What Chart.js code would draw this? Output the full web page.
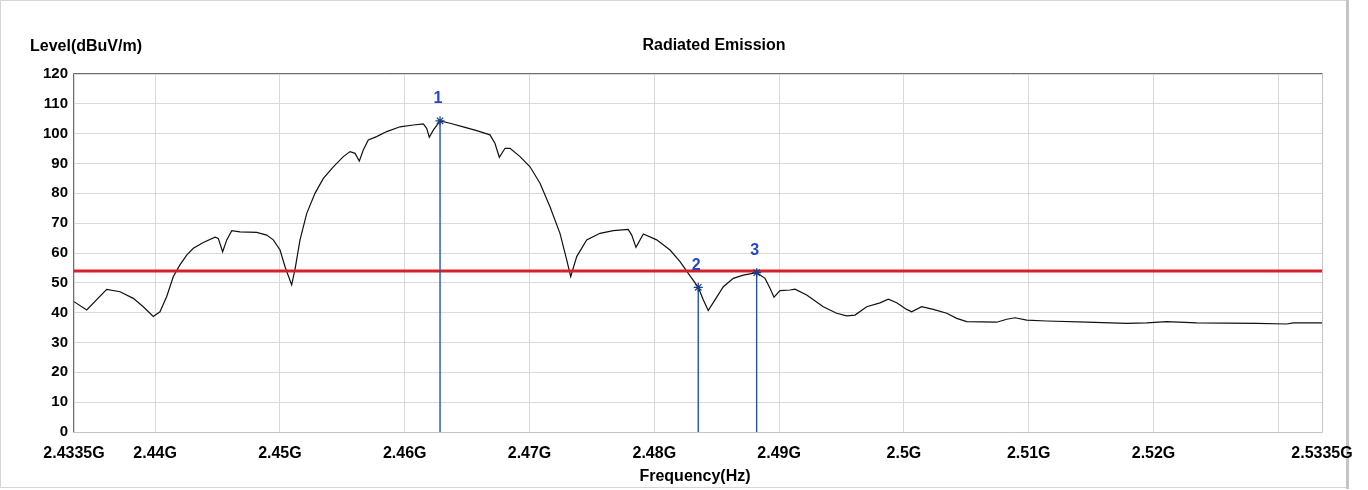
<!DOCTYPE html>
<html>
<head>
<meta charset="utf-8">
<script src="https://cdn.jsdelivr.net/npm/chart.js@4/dist/chart.umd.min.js"></script>
<style>
  html, body { margin: 0; padding: 0; background: #ffffff; }
  #wrap { width: 1368px; height: 490px; position: relative; }
</style>
</head>
<body>
<div id="wrap"><canvas id="c" width="1368" height="490"></canvas></div>
<script>
// ---- Data (frequency in MHz, level in dBuV/m) ----
const freqMHz = [
  2433.50, 2434.52, 2436.12, 2437.19, 2438.25, 2439.05, 2439.85, 2440.39, 2440.93, 2441.46,
  2441.99, 2442.53, 2443.06, 2443.86, 2444.80, 2445.06, 2445.41, 2445.74, 2446.14, 2446.80,
  2448.14, 2448.94, 2449.47, 2450.01, 2450.41, 2450.94, 2451.21, 2451.61, 2452.15, 2452.81,
  2453.48, 2454.28, 2455.08, 2455.62, 2456.02, 2456.36, 2456.68, 2457.08, 2457.75, 2458.56,
  2459.62, 2460.69, 2461.49, 2461.76, 2461.97, 2462.29, 2462.83, 2463.63, 2464.69, 2465.77,
  2466.83, 2467.23, 2467.58, 2468.04, 2468.44, 2469.24, 2470.04, 2470.84, 2471.64, 2472.44,
  2472.98, 2473.30, 2473.78, 2474.58, 2475.65, 2476.71, 2477.91, 2478.19, 2478.53, 2479.12,
  2480.19, 2481.26, 2482.06, 2482.72, 2483.52, 2483.92, 2484.32, 2484.86, 2485.53, 2486.33,
  2487.13, 2488.20, 2488.87, 2489.27, 2489.59, 2490.07, 2490.87, 2491.27, 2492.21, 2493.54,
  2494.61, 2495.41, 2496.08, 2497.02, 2498.08, 2498.75, 2499.42, 2500.22, 2500.62, 2501.42,
  2502.35, 2503.43, 2504.23, 2505.03, 2507.43, 2508.24, 2508.90, 2509.84, 2511.44, 2514.65,
  2517.85, 2519.45, 2521.06, 2523.46, 2528.27, 2530.67, 2531.20, 2533.50
];
const levelDb = [
  43.7, 40.9, 47.8, 47.0, 44.8, 42.0, 38.7, 40.3, 45.4, 52.1,
  56.0, 59.3, 61.6, 63.5, 65.3, 64.9, 60.4, 64.4, 67.5, 67.1,
  66.9, 66.0, 64.4, 61.0, 55.4, 49.3, 54.5, 64.4, 73.3, 80.0,
  85.0, 88.9, 92.3, 94.0, 93.4, 90.8, 94.5, 97.9, 99.0, 100.7,
  102.3, 102.9, 103.3, 101.8, 98.8, 101.2, 104.3, 103.5, 102.3, 101.0,
  99.6, 96.8, 92.1, 95.1, 95.1, 92.3, 88.9, 83.4, 75.5, 66.6,
  57.7, 52.1, 58.8, 64.4, 66.6, 67.5, 67.9, 66.0, 61.9, 66.4,
  64.4, 61.0, 57.1, 53.2, 48.5, 44.3, 40.7, 44.3, 48.7, 51.5,
  52.6, 53.4, 51.5, 48.2, 45.2, 47.4, 47.6, 47.9, 45.9, 42.0,
  39.8, 38.9, 39.2, 42.0, 43.3, 44.5, 43.3, 41.1, 40.3, 42.0,
  41.1, 39.8, 38.1, 37.0, 36.8, 37.8, 38.3, 37.5, 37.2, 36.8,
  36.4, 36.6, 37.0, 36.6, 36.4, 36.2, 36.6, 36.6
];
const limitLevel = 54;
const markerFreq = [2462.83, 2483.52, 2488.20];
const markerLevel = [104.3, 48.5, 53.4];
const markerNames = ['1', '2', '3'];

const xTickValues = [2433.5, 2440, 2450, 2460, 2470, 2480, 2490, 2500, 2510, 2520, 2530, 2533.5];
const xTickLabels = ['2.4335G', '2.44G', '2.45G', '2.46G', '2.47G', '2.48G', '2.49G', '2.5G', '2.51G', '2.52G', '', '2.5335G'];
const yTickValues = [0, 10, 20, 30, 40, 50, 60, 70, 80, 90, 100, 110, 120];

const titleText = 'Radiated Emission';
const yTitleText = 'Level(dBuV/m)';
const xTitleText = 'Frequency(Hz)';

// ---- Build datasets ----
const FONT = '"Liberation Sans", Arial, sans-serif';
const xMin = xTickValues[0], xMax = xTickValues[xTickValues.length - 1];

const markerSets = markerFreq.map((f, i) => ({
  label: 'M' + markerNames[i],
  data: [{ x: f, y: 0 }, { x: f, y: markerLevel[i] }],
  borderColor: '#2257a8',
  borderWidth: 1.4,
  pointRadius: [0, 4.5],
  pointStyle: 'star',
  pointBorderColor: '#1b3d86',
  pointBorderWidth: 1.2,
  pointBackgroundColor: '#1b3d86',
  tension: 0
}));

const limitSet = {
  label: 'Limit',
  data: [{ x: xMin, y: limitLevel }, { x: xMax, y: limitLevel }],
  borderColor: '#d7202a',
  borderWidth: 3,
  pointRadius: 0,
  tension: 0
};

const traceSet = {
  label: 'Level',
  data: freqMHz.map((f, i) => ({ x: f, y: levelDb[i] })),
  borderColor: '#111111',
  borderWidth: 1.2,
  pointRadius: 0,
  tension: 0
};

const decorPlugin = {
  id: 'decor',
  beforeDraw(chart) {
    const ctx = chart.ctx;
    ctx.save();
    ctx.fillStyle = '#ffffff';
    ctx.fillRect(0, 0, chart.width, chart.height);
    // outer frame
    ctx.strokeStyle = '#d6d6d6';
    ctx.lineWidth = 1;
    ctx.strokeRect(0.5, 0.5, 1346, 487);
    ctx.fillStyle = '#c4c4c4';
    ctx.fillRect(1346, 0, 3, 489);
    ctx.restore();
  },
  afterDraw(chart) {
    const ctx = chart.ctx;
    const a = chart.chartArea;
    const xs = chart.scales.x, ys = chart.scales.y;
    ctx.save();
    // plot frame
    ctx.lineWidth = 1;
    ctx.strokeStyle = '#c4c4c4';
    ctx.beginPath();
    ctx.moveTo(a.right + 0.5, a.top); ctx.lineTo(a.right + 0.5, a.bottom + 0.5);
    ctx.lineTo(a.left, a.bottom + 0.5);
    ctx.stroke();
    ctx.strokeStyle = '#6e6e6e';
    ctx.beginPath();
    ctx.moveTo(a.left - 0.5, a.bottom + 0.5); ctx.lineTo(a.left - 0.5, a.top - 0.5);
    ctx.lineTo(a.right + 0.5, a.top - 0.5);
    ctx.stroke();
    // texts
    ctx.fillStyle = '#000000';
    ctx.font = 'bold 16px ' + FONT;
    ctx.textBaseline = 'middle';
    ctx.textAlign = 'left';
    ctx.fillText(yTitleText, 30, 47);
    ctx.textAlign = 'center';
    ctx.fillText(titleText, 714, 46);
    ctx.fillText(xTitleText, (a.left + a.right) / 2 - 3, 477);
    // marker numbers
    ctx.fillStyle = '#2348c8';
    ctx.font = 'bold 16px ' + FONT;
    markerFreq.forEach((f, i) => {
      const px = xs.getPixelForValue(f);
      const py = ys.getPixelForValue(markerLevel[i]);
      ctx.fillText(markerNames[i], px - 2, py - 22);
    });
    ctx.restore();
  }
};

new Chart(document.getElementById('c'), {
  type: 'line',
  data: { datasets: [...markerSets, limitSet, traceSet] },
  plugins: [decorPlugin],
  options: {
    responsive: false,
    animation: false,
    devicePixelRatio: 1,
    layout: { padding: { top: 74, right: 46, left: 0, bottom: 0 } },
    plugins: { legend: { display: false }, tooltip: { enabled: false }, title: { display: false } },
    scales: {
      x: {
        type: 'linear',
        min: xMin,
        max: xMax,
        afterBuildTicks(scale) { scale.ticks = xTickValues.map(v => ({ value: v })); },
        afterFit(scale) { scale.height = 58; },
        grid: { color: '#d9d9d9', lineWidth: 1, drawTicks: false },
        border: { display: false },
        ticks: {
          autoSkip: false, maxRotation: 0, minRotation: 0, padding: 12,
          color: '#000000', font: { family: FONT, size: 16, weight: 'bold' },
          callback(v, i) { return xTickLabels[i]; }
        }
      },
      y: {
        type: 'linear',
        min: 0,
        max: 120,
        afterBuildTicks(scale) { scale.ticks = yTickValues.map(v => ({ value: v })); },
        afterFit(scale) { scale.width = 74; },
        grid: { color: '#d9d9d9', lineWidth: 1, drawTicks: false },
        border: { display: false },
        ticks: {
          padding: 6, color: '#000000', font: { family: FONT, size: 15, weight: 'bold' }
        }
      }
    }
  }
});
</script>
</body>
</html>
